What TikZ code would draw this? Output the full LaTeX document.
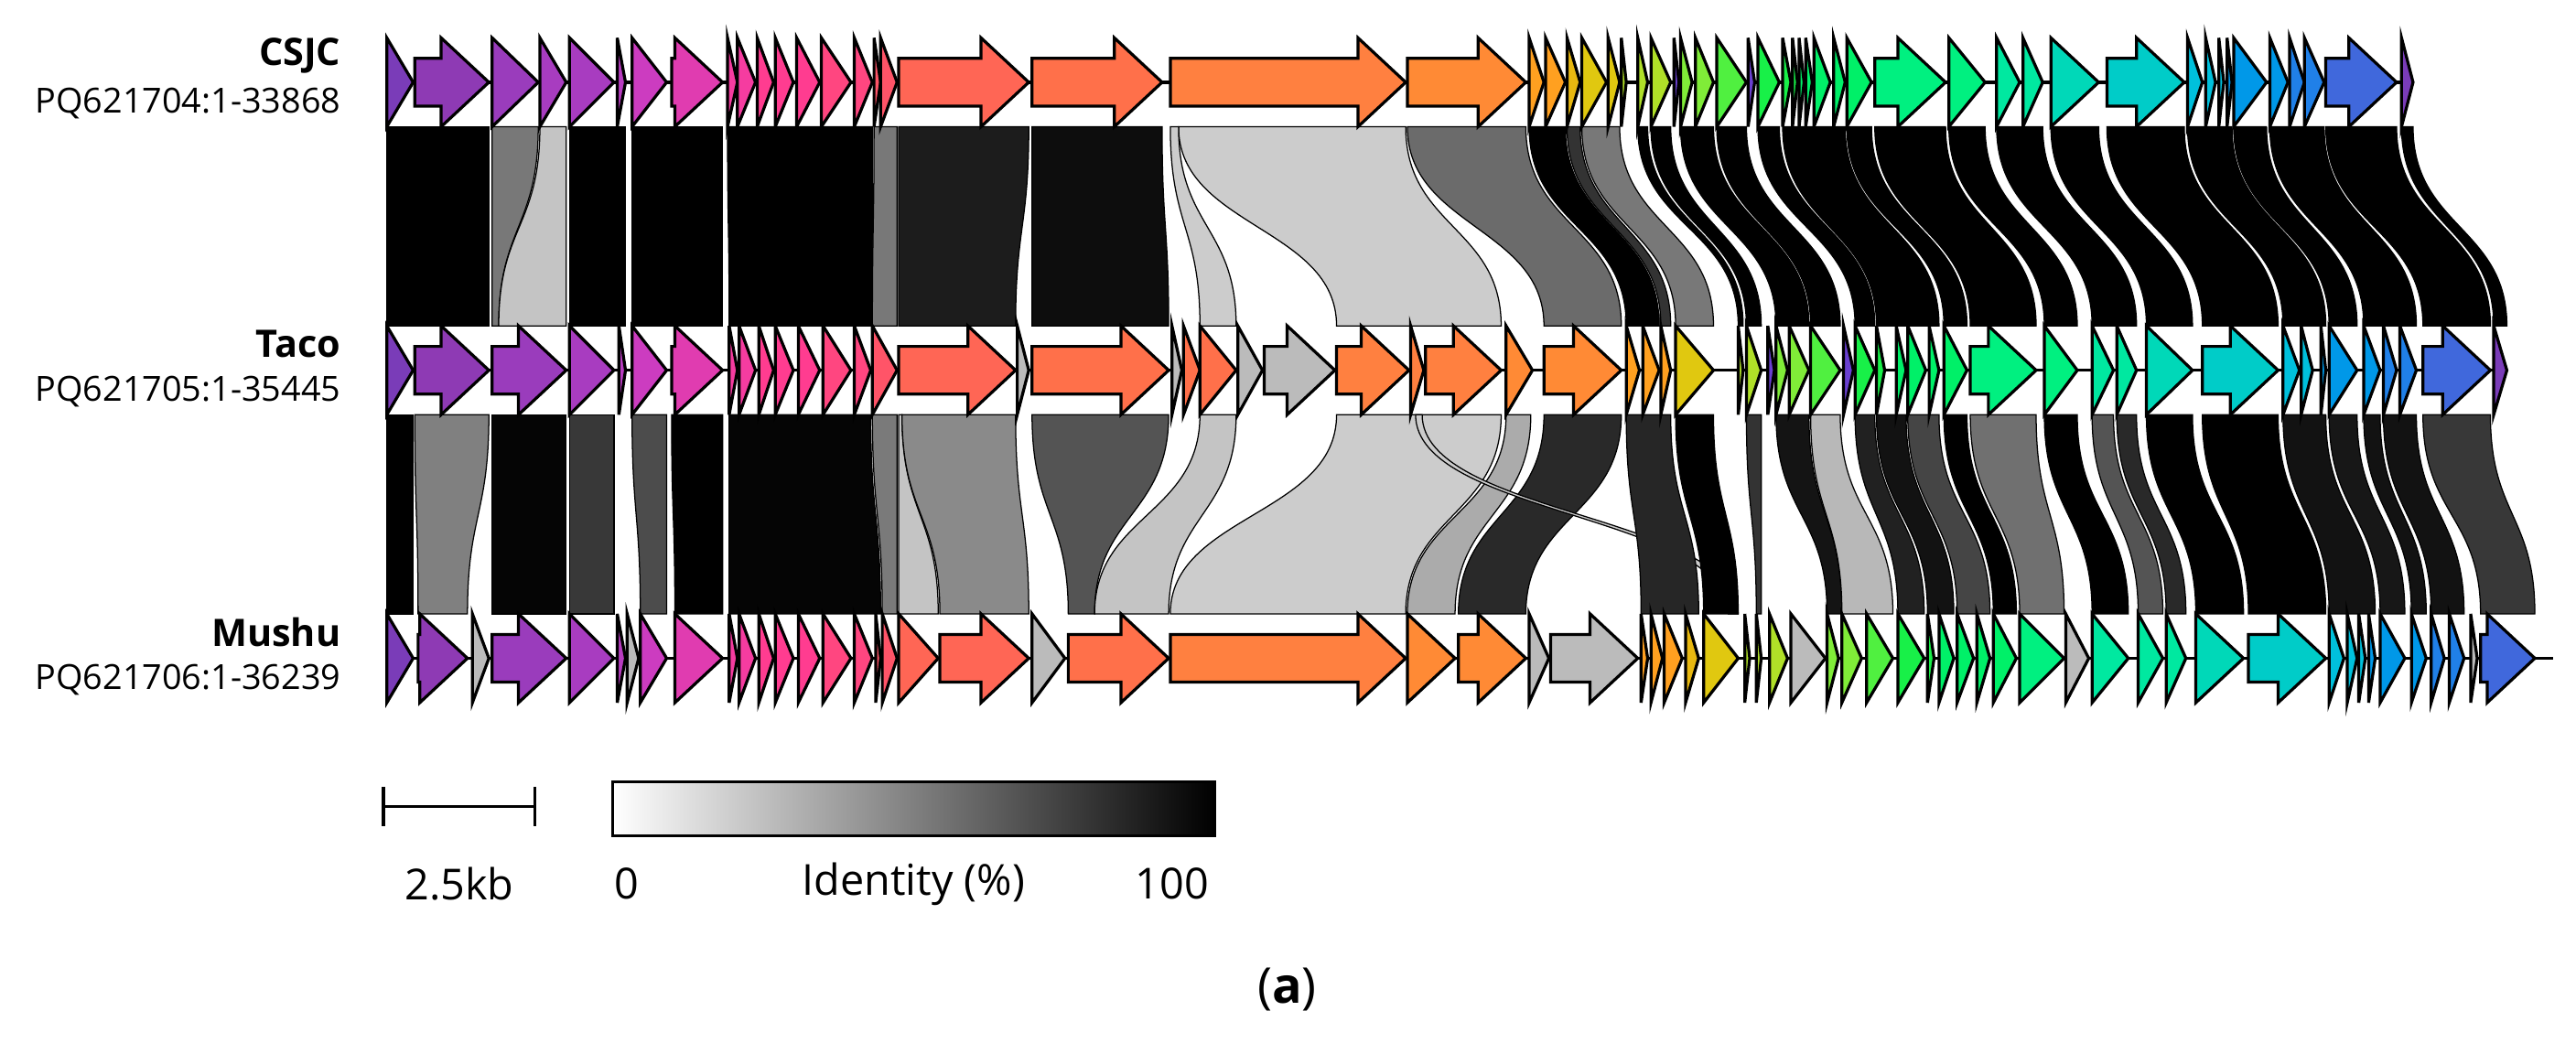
\documentclass[tikz,border=0pt]{standalone}
\usepackage{fontspec}
\setmainfont{Open Sans}
\begin{document}
\definecolor{c1}{HTML}{7A3CB8}\definecolor{c2}{HTML}{8E3AB4}\definecolor{c3}{HTML}{9A3CBC}
\definecolor{c4}{HTML}{A83CC0}\definecolor{c5}{HTML}{B83CC0}\definecolor{c6}{HTML}{CC3CC0}
\definecolor{c7}{HTML}{E03CB0}\definecolor{c8}{HTML}{F53CA0}\definecolor{c9}{HTML}{FF3C90}
\definecolor{c10}{HTML}{FF4680}\definecolor{c11}{HTML}{FF5468}\definecolor{c12}{HTML}{FF6655}
\definecolor{c13}{HTML}{FF704A}\definecolor{c14}{HTML}{FF8040}\definecolor{c15}{HTML}{FF8A35}
\definecolor{c16}{HTML}{FFA020}\definecolor{c17}{HTML}{E8B810}\definecolor{c18}{HTML}{E0C810}
\definecolor{c19}{HTML}{B0E028}\definecolor{c20}{HTML}{80EC38}\definecolor{c21}{HTML}{50F040}
\definecolor{c22}{HTML}{18F048}\definecolor{c23}{HTML}{00F068}\definecolor{c24}{HTML}{00F080}
\definecolor{c25}{HTML}{00E8A0}\definecolor{c26}{HTML}{00D8B8}\definecolor{c27}{HTML}{00CCC8}
\definecolor{c28}{HTML}{00C0DC}\definecolor{c29}{HTML}{0098E8}\definecolor{c30}{HTML}{2080E8}
\definecolor{c31}{HTML}{4068DC}\definecolor{c32}{HTML}{6A40D0}\definecolor{gr}{HTML}{BBBBBB}
\newcommand\gn[3]{\pgfmathsetmacro\hl{min(29,#2-#1)}%
 \draw[gene,fill=#3] (#1,\ry-14.5)--(#2-\hl,\ry-14.5)--(#2-\hl,\ry-27)--(#2,\ry)--(#2-\hl,\ry+27)--(#2-\hl,\ry+14.5)--(#1,\ry+14.5)--cycle;}
\newcommand\lk[5]{\draw[link,fill=black!#5] (#1,\ya) .. controls (#1,\ym) and (#3,\ym) .. (#3,\yb) -- (#4,\yb) .. controls (#4,\ym) and (#2,\ym) .. (#2,\ya) -- cycle;}
\begin{tikzpicture}[x=0.5pt,y=-0.5pt,
 gene/.style={line width=0.9pt,line join=miter},
 link/.style={line width=0.35pt,draw=black},
 lab/.style={anchor=east,font=\fontsize{10.5}{12}\selectfont},
 blab/.style={anchor=east,font=\fontsize{11.5}{13}\selectfont\bfseries},
 txt/.style={font=\fontsize{13}{15}\selectfont}]
\useasboundingbox (0,0) rectangle (1565,640);
% links row1 -> row2
\def\ya{77}\def\yb{198}\def\ym{138}
\lk{235}{297}{235}{297}{100}
\lk{299}{327}{299}{303}{53}
\lk{328}{344}{303}{344}{23}
\lk{346}{380}{346}{380}{100}
\lk{384}{439}{384}{439}{100}
\lk{442}{530}{443}{530}{100}
\lk{531}{545}{530}{545}{53}
\lk{546}{625}{546}{617}{89}
\lk{627}{706}{627}{710}{95}
\lk{716}{854}{812}{912}{20}
\lk{711}{716}{729}{751}{20}
\lk{855}{927}{938}{985}{58}
\lk{929}{951}{988}{1008}{100}
\lk{952}{960}{1009}{1015}{80}
\lk{961}{984}{1018}{1041}{53}
\lk{995}{1001}{1056}{1059}{100}
\lk{1003}{1015}{1061}{1070}{100}
\lk{1021}{1041}{1079}{1099}{100}
\lk{1043}{1061}{1100}{1118}{100}
\lk{1068}{1081}{1127}{1139}{100}
\lk{1083}{1121}{1140}{1178}{100}
\lk{1122}{1137}{1181}{1195}{100}
\lk{1139}{1182}{1197}{1237}{100}
\lk{1184}{1206}{1242}{1262}{100}
\lk{1213}{1241}{1271}{1298}{100}
\lk{1246}{1275}{1304}{1332}{100}
\lk{1280}{1327}{1338}{1384}{100}
\lk{1329}{1356}{1387}{1413}{100}
\lk{1357}{1377}{1415}{1432}{100}
\lk{1379}{1412}{1436}{1468}{100}
\lk{1413}{1456}{1472}{1513}{100}
\lk{1459}{1466}{1515}{1523}{100}
% links row2 -> row3
\def\ya{252}\def\yb{373}\def\ym{313}
\lk{235}{251}{235}{251}{100}
\lk{252}{297}{254}{284}{50}
\lk{299}{344}{299}{344}{98}
\lk{346}{373}{346}{373}{78}
\lk{384}{405}{389}{405}{70}
\lk{408}{439}{410}{439}{100}
\lk{443}{529}{443}{535}{98}
\lk{530}{545}{536}{545}{52}
\lk{546}{548}{546}{570}{23}
\lk{548}{617}{571}{625}{46}
\lk{627}{710}{649}{665}{67}
\lk{729}{751}{665}{710}{23}
\lk{812}{912}{711}{854}{20}
\lk{915}{930}{855}{884}{33}
\lk{938}{985}{886}{927}{84}
\lk{860}{864}{1050}{1056}{20}
\lk{988}{1015}{997}{1032}{85}
\lk{1018}{1041}{1035}{1056}{100}
\lk{1061}{1070}{1067}{1070}{80}
\lk{1079}{1099}{1110}{1119}{92}
\lk{1100}{1118}{1119}{1150}{28}
\lk{1127}{1139}{1153}{1169}{87}
\lk{1140}{1158}{1171}{1187}{93}
\lk{1159}{1178}{1189}{1209}{73}
\lk{1181}{1195}{1211}{1225}{100}
\lk{1197}{1237}{1227}{1254}{56}
\lk{1242}{1262}{1271}{1293}{100}
\lk{1271}{1284}{1299}{1314}{67}
\lk{1286}{1298}{1316}{1328}{84}
\lk{1304}{1332}{1334}{1363}{100}
\lk{1338}{1384}{1366}{1413}{100}
\lk{1387}{1413}{1415}{1443}{93}
\lk{1415}{1432}{1446}{1461}{91}
\lk{1436}{1446}{1465}{1474}{93}
\lk{1448}{1468}{1477}{1497}{93}
\lk{1472}{1513}{1507}{1540}{78}
% baselines
\draw[line width=0.9pt] (235,50)--(1466,50) (235,225)--(1523,225) (235,400)--(1551,400);
% row 1
\def\ry{50}
\gn{235}{251}{c1}\gn{252}{297}{c2}\gn{299}{327}{c3}\gn{328}{344}{c4}\gn{346}{373}{c4}\gn{375}{380}{c5}\gn{384}{405}{c6}\gn{408}{439}{c7}\gn{442}{448}{c8}\gn{448}{459}{c8}\gn{460}{470}{c9}\gn{471}{482}{c9}\gn{484}{498}{c9}\gn{499}{517}{c10}\gn{519}{530}{c10}\gn{531}{535}{c11}\gn{535}{545}{c11}\gn{546}{625}{c12}\gn{627}{706}{c13}\gn{711}{854}{c14}\gn{855}{927}{c15}\gn{929}{938}{c16}\gn{939}{951}{c16}\gn{952}{960}{c17}\gn{961}{976}{c18}\gn{977}{984}{c18}\gn{985}{988}{c19}\gn{995}{1001}{c19}\gn{1003}{1015}{c19}\gn{1017}{1020}{c32}\gn{1021}{1028}{c20}\gn{1030}{1041}{c20}\gn{1043}{1061}{c21}\gn{1062}{1066}{c32}\gn{1068}{1081}{c22}\gn{1083}{1088}{c22}\gn{1089}{1092}{c22}\gn{1093}{1096}{c23}\gn{1097}{1101}{c23}\gn{1102}{1112}{c23}\gn{1114}{1121}{c23}\gn{1122}{1137}{c23}\gn{1139}{1182}{c24}\gn{1184}{1206}{c24}\gn{1213}{1227}{c25}\gn{1229}{1241}{c25}\gn{1246}{1275}{c26}\gn{1280}{1327}{c27}\gn{1329}{1338}{c28}\gn{1340}{1346}{c28}\gn{1348}{1351}{c28}\gn{1353}{1356}{c29}\gn{1357}{1377}{c29}\gn{1379}{1390}{c29}\gn{1391}{1400}{c30}\gn{1400}{1412}{c30}\gn{1413}{1456}{c31}\gn{1459}{1466}{c1}
% row 2
\def\ry{225}
\gn{235}{251}{c1}\gn{252}{297}{c2}\gn{299}{344}{c3}\gn{346}{373}{c4}\gn{376}{380}{c5}\gn{384}{405}{c6}\gn{408}{439}{c7}\gn{443}{448}{c8}\gn{449}{459}{c8}\gn{461}{470}{c9}\gn{471}{482}{c9}\gn{485}{498}{c9}\gn{500}{517}{c10}\gn{519}{529}{c10}\gn{530}{545}{c11}\gn{546}{617}{c12}\gn{618}{625}{gr}\gn{627}{710}{c13}\gn{712}{718}{gr}\gn{719}{729}{c13}\gn{729}{751}{c13}\gn{752}{767}{gr}\gn{768}{811}{gr}\gn{812}{856}{c14}\gn{857}{865}{c14}\gn{866}{912}{c14}\gn{915}{931}{c15}\gn{938}{985}{c15}\gn{988}{996}{c16}\gn{998}{1008}{c16}\gn{1009}{1015}{c16}\gn{1018}{1041}{c18}\gn{1056}{1059}{c19}\gn{1061}{1070}{c19}\gn{1074}{1078}{c32}\gn{1079}{1086}{c20}\gn{1087}{1099}{c20}\gn{1100}{1118}{c21}\gn{1120}{1126}{c32}\gn{1127}{1139}{c22}\gn{1140}{1145}{c22}\gn{1152}{1158}{c23}\gn{1159}{1170}{c23}\gn{1172}{1178}{c23}\gn{1181}{1195}{c23}\gn{1197}{1237}{c24}\gn{1242}{1262}{c24}\gn{1271}{1284}{c25}\gn{1286}{1298}{c25}\gn{1304}{1332}{c26}\gn{1338}{1384}{c27}\gn{1387}{1397}{c28}\gn{1398}{1405}{c28}\gn{1410}{1413}{c29}\gn{1415}{1432}{c29}\gn{1436}{1446}{c29}\gn{1448}{1456}{c30}\gn{1458}{1468}{c30}\gn{1472}{1513}{c31}\gn{1515}{1523}{c1}
% row 3
\def\ry{400}
\gn{235}{251}{c1}\gn{254}{284}{c2}\gn{287}{297}{gr}\gn{299}{344}{c3}\gn{346}{373}{c4}\gn{375}{380}{c5}\gn{381}{388}{gr}\gn{389}{405}{c6}\gn{410}{439}{c7}\gn{443}{448}{c8}\gn{449}{459}{c8}\gn{461}{470}{c9}\gn{471}{482}{c9}\gn{485}{498}{c9}\gn{500}{517}{c10}\gn{519}{530}{c10}\gn{532}{535}{c11}\gn{536}{545}{c11}\gn{546}{570}{c12}\gn{571}{625}{c12}\gn{627}{647}{gr}\gn{649}{710}{c13}\gn{711}{854}{c14}\gn{855}{884}{c15}\gn{886}{927}{c15}\gn{929}{941}{gr}\gn{942}{995}{gr}\gn{997}{1001}{c16}\gn{1003}{1010}{c16}\gn{1011}{1022}{c16}\gn{1024}{1032}{c17}\gn{1035}{1056}{c18}\gn{1060}{1063}{c19}\gn{1067}{1070}{c19}\gn{1075}{1086}{c19}\gn{1088}{1109}{gr}\gn{1110}{1117}{c20}\gn{1119}{1131}{c20}\gn{1134}{1150}{c21}\gn{1153}{1169}{c22}\gn{1171}{1175}{c22}\gn{1178}{1187}{c23}\gn{1189}{1199}{c23}\gn{1201}{1209}{c23}\gn{1211}{1225}{c23}\gn{1227}{1254}{c24}\gn{1255}{1269}{gr}\gn{1271}{1293}{c25}\gn{1299}{1314}{c25}\gn{1316}{1328}{c25}\gn{1334}{1363}{c26}\gn{1366}{1413}{c27}\gn{1415}{1424}{c28}\gn{1426}{1432}{c28}\gn{1433}{1437}{c28}\gn{1439}{1443}{c29}\gn{1446}{1461}{c29}\gn{1465}{1474}{c29}\gn{1477}{1485}{c30}\gn{1488}{1497}{c30}\gn{1501}{1505}{gr}\gn{1507}{1540}{c31}
% labels
\node[blab] (n1) at (214,34) {CSJC};
\node[lab] (p1) at (214,63) {PQ621704:1-33868};
\node[blab] (n2) at (214,209) {Taco};
\node[lab] (p2) at (214,238) {PQ621705:1-35445};
\node[blab] (n3) at (214,384) {Mushu};
\node[lab] (p3) at (214,413) {PQ621706:1-36239};
% scale bar
\draw[line width=1pt] (233,490)--(325,490) (233,478)--(233,502) (325,478)--(325,502);
\node[txt] (kb) at (279,537) {2.5kb};
\shade[left color=white,right color=black] (372,475) rectangle (738,508);
\draw[line width=0.8pt] (372,475) rectangle (738,508);
\node[txt] (z) at (381,537) {0};
\node[txt] (id) at (555,537) {Identity (\%)};
\node[txt] (h) at (712,537) {100};
\node[font=\fontsize{15}{17}\selectfont\rmfamily] (a) at (782,601) {(\textbf{a})};
\end{tikzpicture}
\end{document}
